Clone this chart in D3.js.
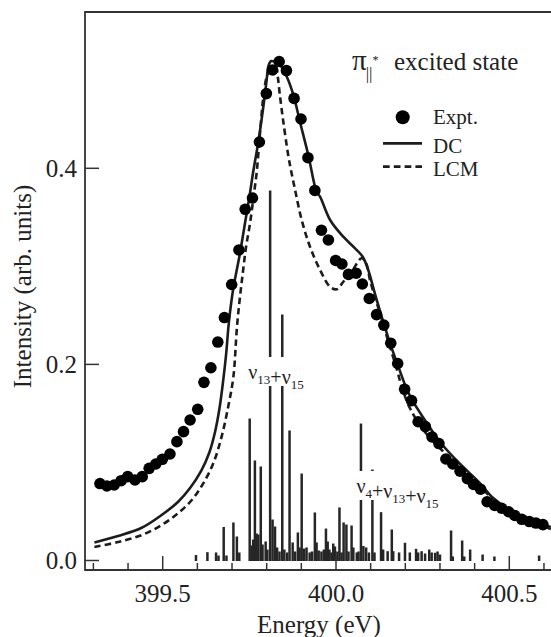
<!DOCTYPE html>
<html><head><meta charset="utf-8">
<script src="https://cdn.jsdelivr.net/npm/d3@7"></script>
<style>body{margin:0;background:#fff}svg{display:block}</style>
</head><body><svg id="c" width="551" height="637" font-family="'Liberation Serif', 'Times New Roman', Tinos, 'DejaVu Serif', serif"></svg>
<script>
// ---------- data ----------
const exptE=[399.319,399.339,399.360,399.380,399.399,399.420,399.441,399.461,399.480,399.499,399.521,399.541,399.560,399.579,399.601,399.619,399.639,399.659,399.678,399.699,399.720,399.738,399.759,399.779,399.799,399.817,399.836,399.857,399.879,399.899,399.919,399.939,399.958,399.978,399.999,400.017,400.036,400.058,400.076,400.096,400.117,400.138,400.158,400.178,400.198,400.218,400.237,400.258,400.277,400.297,400.317,400.337,400.358,400.379,400.397,400.417,400.436,400.458,400.478,400.498,400.516,400.536,400.558,400.577,400.597];
const exptI=[0.0785,0.0760,0.0770,0.0814,0.0855,0.0821,0.0855,0.0940,0.0984,0.1032,0.1086,0.1212,0.1314,0.1433,0.1542,0.1817,0.1966,0.2228,0.2478,0.2815,0.3167,0.3582,0.3697,0.4268,0.4762,0.5003,0.5089,0.4997,0.4713,0.4503,0.4108,0.3774,0.3368,0.3269,0.3060,0.3024,0.2918,0.2930,0.2820,0.2672,0.2508,0.2401,0.2216,0.2009,0.1746,0.1631,0.1415,0.1365,0.1260,0.1193,0.1035,0.0984,0.0911,0.0835,0.0775,0.0727,0.0599,0.0561,0.0533,0.0497,0.0459,0.0420,0.0397,0.0382,0.0366];

const dcE=[399.303,399.371,399.438,399.497,399.544,399.579,399.611,399.634,399.651,399.664,399.674,399.683,399.691,399.703,399.722,399.738,399.751,399.761,399.772,399.781,399.791,399.800,399.805,399.813,399.824,399.838,399.858,399.877,399.896,399.920,399.944,399.954,399.983,400.021,400.055,400.077,400.093,400.112,400.132,400.156,400.180,400.204,400.223,400.262,400.305,400.358,400.415,400.450,400.502,400.551,400.597,400.620];
const dcI=[0.0184,0.0250,0.0331,0.0464,0.0597,0.0739,0.0913,0.1096,0.1311,0.1555,0.1820,0.2106,0.2432,0.2759,0.3116,0.3452,0.3728,0.3962,0.4187,0.4391,0.4646,0.4901,0.5043,0.5094,0.5084,0.5054,0.4934,0.4748,0.4475,0.4136,0.3761,0.3710,0.3473,0.3302,0.3184,0.3098,0.2963,0.2725,0.2486,0.2215,0.1977,0.1749,0.1617,0.1402,0.1188,0.0984,0.0790,0.0648,0.0515,0.0433,0.0367,0.0342];

const lcmE=[399.303,399.372,399.440,399.497,399.545,399.584,399.617,399.646,399.670,399.689,399.704,399.714,399.722,399.731,399.740,399.752,399.762,399.771,399.778,399.784,399.790,399.802,399.815,399.827,399.832,399.838,399.848,399.862,399.870,399.882,399.901,399.925,399.954,399.983,400.002,400.021,400.045,400.074,400.087,400.098,400.112,400.127,400.141,400.156,400.176,400.190,400.213,400.252,400.305,400.358,400.415,400.502,400.597,400.620];
const lcmI=[0.0138,0.0189,0.0260,0.0362,0.0484,0.0617,0.0787,0.0991,0.1263,0.1569,0.1875,0.2371,0.2657,0.2929,0.3187,0.3439,0.3707,0.3952,0.4238,0.4493,0.4714,0.4952,0.5013,0.5023,0.4934,0.4748,0.4475,0.4136,0.3983,0.3779,0.3473,0.3200,0.2963,0.2792,0.2766,0.2843,0.2945,0.3082,0.3031,0.2861,0.2690,0.2521,0.2351,0.2177,0.1943,0.1769,0.1555,0.1331,0.1127,0.0943,0.0750,0.0495,0.0352,0.0321];

const stickE=[399.596,399.629,399.654,399.661,399.676,399.684,399.704,399.714,399.721,399.751,399.757,399.761,399.766,399.771,399.776,399.783,399.788,399.797,399.802,399.810,399.817,399.824,399.830,399.837,399.845,399.851,399.859,399.866,399.875,399.882,399.890,399.895,399.901,399.908,399.915,399.924,399.931,399.939,399.944,399.950,399.958,399.965,399.971,399.976,399.981,399.987,399.992,399.997,400.004,400.010,400.016,400.022,400.030,400.036,400.045,400.050,400.060,400.065,400.072,400.079,400.087,400.095,400.105,400.111,400.130,400.136,400.149,400.161,400.165,400.182,400.199,400.213,400.231,400.237,400.247,400.257,400.269,400.276,400.286,400.293,400.300,400.332,400.337,400.364,400.370,400.387,400.423,400.457,400.586];
const stickI=[0.0056,0.0085,0.0082,0.0051,0.0342,0.0051,0.0388,0.0245,0.0082,0.1448,0.0153,0.0214,0.1020,0.0275,0.0265,0.0959,0.0163,0.0194,0.0112,0.3774,0.0418,0.0347,0.0133,0.0092,0.2509,0.0112,0.0082,0.1326,0.0184,0.0092,0.0286,0.0133,0.0887,0.0122,0.0133,0.0082,0.0092,0.0490,0.0184,0.0102,0.0092,0.0112,0.0326,0.0194,0.0112,0.0082,0.0173,0.0143,0.0092,0.0541,0.0082,0.0388,0.0367,0.0092,0.0357,0.0133,0.0082,0.0092,0.1397,0.0148,0.0133,0.0082,0.0928,0.0082,0.0493,0.0112,0.0095,0.0316,0.0095,0.0082,0.0181,0.0082,0.0119,0.0082,0.0095,0.0071,0.0112,0.0082,0.0079,0.0092,0.0061,0.0306,0.0041,0.0204,0.0041,0.0112,0.0061,0.0041,0.0051];

const xMinorTicks=[399.3,399.4,399.5,399.6,399.7,399.8,399.9,400.0,400.1,400.2,400.3,400.4,400.5,400.6];
const xMajorTicks=[399.5,400.0,400.5];
const xTickLabels=["399.5","400.0","400.5"];
const yTicks=[0.0,0.2,0.4];
const yTickLabels=["0.0","0.2","0.4"];
const legendLabels=["Expt.","DC","LCM"];

// ---------- layout ----------
const svg=d3.select("#c");
const x=d3.scaleLinear().domain([399.5,400.5]).range([162.7,509.3]);
const y=d3.scaleLinear().domain([0,0.4]).range([560.5,168.3]);
const L=85,R=552,T=12,B=570;
const ink="#1c1c1c";
const txt="#222";

// sticks
const gS=svg.append("g");
stickE.forEach((e,i)=>{
  gS.append("line").attr("x1",x(e)).attr("x2",x(e)).attr("y1",y(0)+0.5).attr("y2",y(stickI[i]))
    .attr("stroke","#262626").attr("stroke-width",2.5);
});

// peak labels with white boxes
function nuLabel(parts, xc, base){
  const g=svg.append("g");
  const t=g.append("text").attr("y",base).attr("font-size",20).attr("fill",txt);
  parts.forEach(p=>{
    if(p.sub){t.append("tspan").attr("font-size",13).attr("dy",5).text(p.sub);
      t.append("tspan").attr("dy",-5).text("");}
    else t.append("tspan").text(p.t);
  });
  const w=t.node().getComputedTextLength();
  t.attr("x",xc-w/2);
  g.insert("rect","text").attr("x",xc-w/2-1).attr("y",base-22).attr("width",w+2).attr("height",29).attr("fill","#fff");
}
nuLabel([{t:"ν"},{sub:"13"},{t:"+ν"},{sub:"15"}],276,379);
nuLabel([{t:"ν"},{sub:"4"},{t:"+ν"},{sub:"13"},{t:"+ν"},{sub:"15"}],397.5,493);

// curves
const line=d3.line().x(d=>x(d[0])).y(d=>y(d[1])).curve(d3.curveCatmullRom.alpha(0.5));
svg.append("clipPath").attr("id","cp").append("rect").attr("x",L).attr("y",T).attr("width",R-L).attr("height",B-T);
svg.append("path").datum(lcmE.map((e,i)=>[e,lcmI[i]])).attr("d",line).attr("clip-path","url(#cp)")
  .attr("fill","none").attr("stroke",ink).attr("stroke-width",2.6).attr("stroke-dasharray","6.5,4");
svg.append("path").datum(dcE.map((e,i)=>[e,dcI[i]])).attr("d",line).attr("clip-path","url(#cp)")
  .attr("fill","none").attr("stroke",ink).attr("stroke-width",2.6);

// dots
svg.append("g").selectAll("circle").data(exptE).join("circle")
  .attr("cx",d=>x(d)).attr("cy",(d,i)=>y(exptI[i])).attr("r",5.8).attr("fill","#000");

// frame & ticks
const ax="#333";
svg.append("path").attr("d",`M${R},${T}H${L}V${B}H${R}`).attr("fill","none").attr("stroke",ax).attr("stroke-width",1.8);
xMinorTicks.forEach(v=>{
  const len=xMajorTicks.some(m=>Math.abs(m-v)<1e-6)?14:7;
  svg.append("line").attr("x1",x(v)).attr("x2",x(v)).attr("y1",B).attr("y2",B-len).attr("stroke",ax).attr("stroke-width",1.5);
});
xMajorTicks.forEach((v,i)=>svg.append("text").attr("x",x(v)).attr("y",601.5).attr("text-anchor","middle").attr("font-size",25).attr("fill",txt).text(xTickLabels[i]));
yTicks.forEach((v,i)=>{
  svg.append("line").attr("x1",L).attr("x2",L+14).attr("y1",y(v)).attr("y2",y(v)).attr("stroke",ax).attr("stroke-width",1.5);
  svg.append("text").attr("x",77).attr("y",y(v)+8.5).attr("text-anchor","end").attr("font-size",25).attr("fill",txt).text(yTickLabels[i]);
});
svg.append("text").attr("x",319).attr("y",633).attr("text-anchor","middle").attr("font-size",25).attr("fill",txt).text("Energy (eV)");
svg.append("text").attr("transform","translate(31,286.5) rotate(-90)").attr("text-anchor","middle").attr("font-size",25).attr("fill",txt).text("Intensity (arb. units)");

// title
const tt=svg.append("text").attr("x",352).attr("y",70).attr("font-size",25).attr("fill",txt);
tt.append("tspan").attr("font-size",29).text("π");
tt.append("tspan").attr("font-size",17).attr("dy",9).attr("dx",-1).text("||");
tt.append("tspan").attr("font-size",12).attr("dy",-15).text("*");
tt.append("tspan").attr("dy",6).attr("x",394).text("excited state");

// legend
svg.append("circle").attr("cx",402.7).attr("cy",117.3).attr("r",7).attr("fill","#000");
svg.append("line").attr("x1",383).attr("x2",422).attr("y1",143.3).attr("y2",143.3).attr("stroke",ink).attr("stroke-width",2.7);
svg.append("line").attr("x1",383).attr("x2",422).attr("y1",166.7).attr("y2",166.7).attr("stroke",ink).attr("stroke-width",2.7).attr("stroke-dasharray","6.7,4.1");
[124.3,152.7,176].forEach((yy,i)=>svg.append("text").attr("x",433).attr("y",yy).attr("font-size",21).attr("fill",txt).text(legendLabels[i]));
</script></body></html>
